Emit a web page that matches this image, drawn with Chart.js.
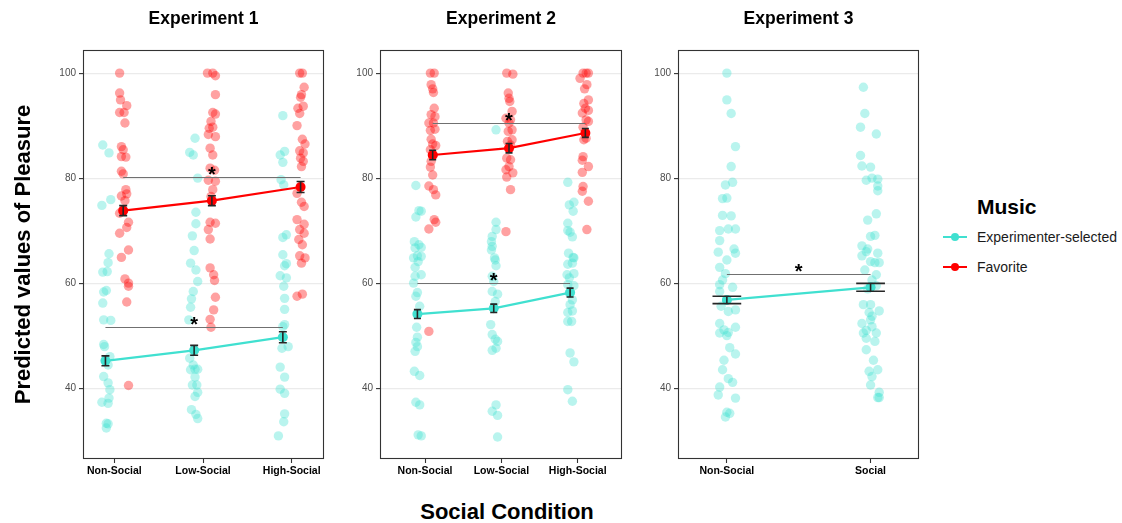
<!DOCTYPE html>
<html>
<head>
<meta charset="utf-8">
<script src="https://cdn.jsdelivr.net/npm/chart.js@4.4.0/dist/chart.umd.min.js"></script>
<style>
  body { margin: 0; background: #fff; font-family: "Liberation Sans", Arial, sans-serif; }
  #wrap { position: relative; width: 1122px; height: 523px; overflow: hidden; }
  #wrap canvas { position: absolute; top: 0; }
  #xtitle { position: absolute; left: 0; width: 1014px; top: 500px; line-height: 24px; text-align: center; font-weight: bold; font-size: 22px; color: #000; }
  #legTitle { position: absolute; left: 977px; top: 195px; line-height: 24px; font-weight: bold; font-size: 21px; color: #000; }
  .key { position: absolute; left: 943px; width: 24px; height: 2px; }
  .dot { position: absolute; left: 951px; width: 8px; height: 8px; border-radius: 50%; }
  .lab { position: absolute; left: 977px; line-height: 16px; font-size: 14px; color: #1a1a1a; }
</style>
</head>
<body>
<div id="wrap">
  <canvas id="c1" width="330" height="482" style="left:0px"></canvas>
  <canvas id="c2" width="298" height="482" style="left:330px"></canvas>
  <canvas id="c3" width="297" height="482" style="left:628px"></canvas>
  <div id="xtitle">Social Condition</div>
  <div id="legTitle">Music</div>
  <div class="key" style="top:236px;background:rgb(64,224,208)"></div>
  <div class="dot" style="top:233px;background:rgb(64,224,208)"></div>
  <div class="lab" style="top:229px">Experimenter-selected</div>
  <div class="key" style="top:266px;background:rgb(255,0,0)"></div>
  <div class="dot" style="top:263px;background:rgb(255,0,0)"></div>
  <div class="lab" style="top:259px">Favorite</div>
</div>
<script>
// ---- data ----
const yTicks = [40, 60, 80, 100];
const cats3 = ['Non-Social', 'Low-Social', 'High-Social'];
const cats2 = ['Non-Social', 'Social'];
const titles = ['Experiment 1', 'Experiment 2', 'Experiment 3'];

// points: [offset from category, predicted value]
// Experiment 1
const e1SelNon = [[-.13,86.3],[-.06,84.8],[-.14,74.8],[-.04,75.9],[-.06,65.6],[-.07,63.9],[-.13,62.1],[-.08,62.2],[-.12,58.3],[-.09,58.6],[-.13,56.2],[-.12,53],[-.04,52.9],[-.12,48.3],[-.11,47.9],[-.05,46],[-.07,44.4],[-.12,42.2],[-.07,41],[-.05,39.7],[-.06,38.1],[-.14,37.3],[-.07,37.1],[-.09,33.3],[-.07,33.2],[-.09,32.4]];
const e1SelLow = [[-.09,87.6],[-.15,84.9],[-.11,84.4],[-.06,80],[-.08,73.5],[-.08,71.3],[-.12,69],[-.10,66.2],[-.14,63.8],[-.08,62.5],[-.06,60.3],[-.11,58.4],[-.13,57],[-.14,55.4],[-.16,53],[-.15,45.7],[-.11,44.4],[-.09,43.6],[-.14,43.5],[-.06,43.6],[-.09,42.1],[-.12,40.6],[-.07,40.6],[-.06,39.2],[-.09,38.4],[-.13,35.9],[-.08,35],[-.06,34.2]];
const e1SelHigh = [[-.10,91.9],[-.13,84.4],[-.08,85.1],[-.10,83],[-.12,79.7],[-.09,78.7],[-.10,68.7],[-.06,69.2],[-.10,65.4],[-.06,63.7],[-.08,63.3],[-.13,61.4],[-.06,61],[-.09,59.4],[-.08,57.1],[-.08,55],[-.10,51.7],[-.08,52.1],[-.04,47.9],[-.11,47.6],[-.13,44],[-.08,42.1],[-.13,39.8],[-.08,39],[-.08,35.1],[-.09,33.6],[-.15,30.9]];
const e1FavNon = [[.06,100],[.06,96.2],[.07,94.9],[.14,93.8],[.06,92.5],[.11,92.5],[.12,90.5],[.08,86],[.10,85.4],[.08,84.1],[.13,84],[.08,81.3],[.10,80.8],[.13,77.8],[.08,76.6],[.14,77],[.12,75.7],[.06,73.3],[.16,71.6],[.14,70.6],[.06,69.5],[.16,66.3],[.08,64.9],[.12,60.8],[.16,60],[.16,59.4],[.14,56.4],[.16,40.5]];
const e1FavLow = [[.05,100],[.11,100],[.14,99.5],[.14,95.9],[.11,92.5],[.14,92.2],[.09,90.8],[.07,89.5],[.11,89.7],[.06,88.3],[.14,87.9],[.08,85.7],[.11,84.4],[.08,81.9],[.13,81.5],[.06,79.6],[.14,79.4],[.11,77.8],[.09,76.5],[.08,71.6],[.14,71.4],[.06,70.2],[.08,68.4],[.08,62.9],[.12,61.6],[.13,60.5],[.14,57.3],[.12,54.9],[.08,53.1],[.09,51.6]];
const e1FavHigh = [[.09,100],[.12,100],[.14,97.3],[.11,95.9],[.10,95.4],[.13,93.7],[.07,93.3],[.09,92.3],[.06,90],[.12,87.4],[.15,86.5],[.09,85.2],[.13,84.8],[.10,83.8],[.13,83.2],[.11,82.2],[.06,77.1],[.11,75.4],[.14,74.6],[.06,72.1],[.14,71.2],[.09,70.2],[.14,69.5],[.08,68.3],[.12,67.3],[.09,65.2],[.15,64.8],[.11,63.8],[.06,57.5],[.12,57.9]];
const e1SelMean = [45.2, 47.2, 49.7];
const e1SelSe = [0.95, 0.95, 1.05];
const e1FavMean = [73.8, 75.7, 78.3];
const e1FavSe = [0.95, 0.95, 1.05];
const e1Sig = [[1.1, 3.1, 80.3], [0.9, 2.9, 51.6]];

// Experiment 2
const e2SelNon = [[-.12,78.6],[-.08,73.8],[-.05,73.7],[-.12,72.6],[-.14,67.9],[-.08,67.3],[-.13,66.7],[-.05,66.8],[-.10,65.2],[-.15,64.8],[-.05,65.1],[-.13,63],[-.09,64.1],[-.13,61.3],[-.05,61.6],[-.15,60],[-.10,58.2],[-.12,57.5],[-.07,55.6],[-.11,51.6],[-.10,49.7],[-.12,48.7],[-.10,47.9],[-.13,47],[-.14,43.2],[-.07,42.4],[-.12,37.3],[-.07,36.8],[-.09,31.1],[-.05,30.9]];
const e2SelLow = [[-.07,89.2],[-.07,71.6],[-.07,70.2],[-.12,68.9],[-.13,67.9],[-.12,67],[-.13,66.3],[-.09,64.8],[-.08,64.4],[-.07,63.3],[-.12,61.3],[-.10,60.3],[-.12,58.4],[-.05,57.9],[-.08,56.5],[-.14,52.1],[-.12,50.2],[-.08,49.3],[-.05,48.9],[-.07,47.6],[-.12,47.2],[-.07,36.8],[-.12,35.6],[-.05,34.8],[-.05,30.7]];
const e2SelHigh = [[-.13,79.2],[-.11,74.9],[-.05,75.4],[-.06,73.7],[-.13,71.4],[-.13,70],[-.10,69.7],[-.07,68.8],[-.12,65.7],[-.06,64.9],[-.05,64.8],[-.13,63.6],[-.07,63.8],[-.05,61.8],[-.14,61.6],[-.11,61],[-.13,59.7],[-.05,59.5],[-.11,58.1],[-.07,56.8],[-.10,55.9],[-.07,54.7],[-.13,54.4],[-.13,52.7],[-.08,52.7],[-.10,46.7],[-.05,45],[-.13,39.7],[-.07,37.5]];
const e2FavNon = [[.07,100],[.12,100],[.08,97.8],[.10,97],[.11,96.3],[.12,93.3],[.08,92.1],[.13,91.7],[.05,90.5],[.11,90.5],[.07,89.1],[.13,89.3],[.08,87.4],[.10,86.5],[.14,86.2],[.07,85.4],[.11,84.4],[.08,83.2],[.07,82.1],[.10,80.6],[.05,78.5],[.11,77.8],[.14,76.8],[.12,72.1],[.14,71.6],[.05,70.3],[.05,50.8]];
const e2FavLow = [[.07,100],[.15,99.8],[.09,96.2],[.10,95.2],[.11,94.6],[.14,92.7],[.06,91.4],[.12,91.1],[.10,90.5],[.14,89.2],[.09,88.9],[.14,87.3],[.08,87],[.12,86.3],[.07,83.8],[.12,83.5],[.10,82.2],[.06,81.6],[.15,81],[.07,80.2],[.12,77.8],[.06,69.8]];
const e2FavHigh = [[.07,100],[.11,100],[.14,100],[.03,99],[.12,97.8],[.09,97],[.14,94.9],[.08,94.2],[.10,93.3],[.14,92.9],[.06,92.4],[.11,91.1],[.14,90.8],[.07,89.7],[.11,87.6],[.08,87.3],[.07,84.1],[.06,83.4],[.14,82.2],[.06,81.1],[.07,78.4],[.06,77.5],[.14,75.6],[.12,70.2]];
const e2SelMean = [54.1, 55.2, 58.2];
const e2SelSe = [0.85, 0.8, 0.85];
const e2FavMean = [84.4, 85.7, 88.6];
const e2FavSe = [0.9, 0.9, 0.85];
const e2Sig = [[1.1, 3.1, 90.5], [0.9, 2.9, 60.1]];

// Experiment 3
const e3SelNon = [[0,100],[0,94.9],[.03,92.3],[.06,86],[.03,82.2],[.04,79.2],[-.01,78.7],[-.03,76.1],[0,76.2],[-.03,72.9],[.03,72.8],[-.05,70],[.01,70.3],[.06,70.3],[-.05,68.1],[.05,66.5],[-.06,65.9],[.06,65.7],[0,64.4],[-.05,63],[-.01,61.8],[-.03,60.6],[-.05,59.7],[.04,59.2],[-.05,58.4],[0,56.8],[-.04,55.6],[.01,54.6],[.06,54.9],[-.05,52.3],[.06,51.6],[-.02,51.1],[-.05,50.5],[.01,50.6],[0,50],[.02,47.7],[.06,46.5],[-.02,45.3],[-.03,43.5],[.01,41.8],[.04,41.1],[-.05,40.2],[-.06,38.7],[.06,38.1],[0,35.4],[.02,35.2],[-.01,34.5]];
const e3SelSoc = [[-.05,97.3],[-.04,92.3],[-.07,89.7],[.04,88.4],[-.07,84.3],[-.06,82.3],[0,82.1],[.01,80],[.05,79.8],[-.03,79.6],[.05,78.5],[.05,77.6],[.04,73.2],[-.02,72],[0,68.9],[.03,69.1],[-.06,67.1],[-.02,66.5],[.05,65.7],[-.06,65.2],[-.03,66],[0,64.1],[.03,63.9],[.06,63.9],[-.04,62.5],[.04,61.6],[.01,60.6],[.04,59.5],[-.02,58.9],[0,55.9],[-.05,55.9],[-.01,54.4],[.06,54.7],[.01,53.7],[0,53],[-.06,52.3],[.01,51.7],[-.03,51],[-.05,50.5],[.04,50.5],[-.03,49.5],[.03,48.9],[-.03,47.3],[.02,45.3],[-.01,43.2],[.05,43.5],[.01,42.2],[0,40.6],[.06,39.2],[.05,38.2],[.06,38.2]];
const e3SelMean = [56.8, 59.2];
const e3SelSe = [0.7, 0.75];
const e3Sig = [[1, 2, 61.7]];

// ---- drawing ----
const SEL = 'rgb(64,224,208)';
const FAV = 'rgb(255,0,0)';
const FONT = '"Liberation Sans", Arial, sans-serif';

function fade(c) { return c.replace('rgb(', 'rgba(').replace(')', ',0.37)'); }

const panelDeco = {
  id: 'panelDeco',
  afterDatasetsDraw(chart, args, o) {
    const { ctx, chartArea: a, scales: { x, y } } = chart;
    ctx.save();
    // significance brackets
    o.sig.forEach(s => {
      const x1 = x.getPixelForValue(s[0]), x2 = x.getPixelForValue(s[1]);
      const py = Math.round(y.getPixelForValue(s[2])) + 0.5;
      ctx.strokeStyle = '#707070';
      ctx.lineWidth = 1.2;
      ctx.beginPath(); ctx.moveTo(x1, py); ctx.lineTo(x2, py); ctx.stroke();
      ctx.fillStyle = '#000';
      ctx.font = 'bold 20px ' + FONT;
      ctx.textAlign = 'center';
      ctx.textBaseline = 'alphabetic';
      ctx.fillText('*', (x1 + x2) / 2, py + 3.5);
    });
    // error bars
    o.bars.forEach(b => {
      const px = x.getPixelForValue(b.x);
      const hw = x.getPixelForValue(b.x + o.cap) - px;
      const y1 = y.getPixelForValue(b.m - b.se), y2 = y.getPixelForValue(b.m + b.se);
      ctx.strokeStyle = '#262626';
      ctx.lineWidth = 1.6;
      ctx.beginPath();
      ctx.moveTo(px, y1); ctx.lineTo(px, y2);
      ctx.moveTo(px - hw, y1); ctx.lineTo(px + hw, y1);
      ctx.moveTo(px - hw, y2); ctx.lineTo(px + hw, y2);
      ctx.stroke();
    });
    // panel frame
    ctx.strokeStyle = '#333';
    ctx.lineWidth = 1.1;
    ctx.strokeRect(a.left + 0.5, a.top + 0.5, a.right - a.left - 1, a.bottom - a.top - 1);
    ctx.restore();
  }
};

function makePanel(p) {
  const datasets = [];
  const bars = [];
  p.series.forEach(s => {
    datasets.push({
      type: 'line',
      data: s.mean.map((m, i) => ({ x: i + 1 + s.dodge, y: m })),
      showLine: true,
      borderColor: s.color,
      backgroundColor: s.color,
      borderWidth: 2.2,
      pointRadius: 5,
      pointBorderWidth: 0,
      order: 0
    });
    s.mean.forEach((m, i) => bars.push({ x: i + 1 + s.dodge, m: m, se: s.se[i] }));
    s.groups.forEach((g, ci) => {
      datasets.push({
        type: 'scatter',
        data: g.map(pt => ({ x: ci + 1 + pt[0], y: pt[1] })),
        backgroundColor: fade(s.color),
        borderWidth: 0,
        pointRadius: 4.7,
        order: 2
      });
    });
  });

  new Chart(document.getElementById(p.id), {
    type: 'scatter',
    data: { datasets: datasets },
    plugins: [panelDeco],
    options: {
      responsive: false,
      devicePixelRatio: 1,
      animation: false,
      events: [],
      layout: { padding: { left: 0, right: 6, top: 0, bottom: 0 } },
      plugins: {
        legend: { display: false },
        tooltip: { enabled: false },
        title: {
          display: true,
          text: p.title,
          fullSize: false,
          color: '#000',
          font: { family: FONT, size: 17.5, weight: 'bold' },
          padding: { top: 9, bottom: 20 }
        },
        panelDeco: { sig: p.sig, bars: bars, cap: p.cap }
      },
      scales: {
        x: {
          type: 'linear',
          min: p.xMin,
          max: p.xMax,
          afterBuildTicks: ax => { ax.ticks = p.cats.map((c, i) => ({ value: i + 1 })); },
          afterFit: ax => { ax.height = 23; },
          border: { display: false },
          grid: { drawOnChartArea: false, tickLength: 4, tickColor: '#333', tickWidth: 1.1 },
          ticks: {
            padding: 2,
            maxRotation: 0,
            color: '#000',
            font: { family: FONT, size: 10.5, weight: 'bold' },
            callback: v => p.cats[Math.round(v) - 1]
          }
        },
        y: {
          type: 'linear',
          min: 26.5,
          max: 104.4,
          afterBuildTicks: ax => { ax.ticks = yTicks.map(v => ({ value: v })); },
          afterFit: ax => { ax.width = p.yW; },
          border: { display: false },
          grid: { color: '#ebebeb', lineWidth: 1.2, tickLength: 4, tickColor: '#333', tickWidth: 1.1 },
          ticks: { padding: 3, color: '#4d4d4d', font: { family: FONT, size: 10 } },
          title: {
            display: p.yTitle,
            text: 'Predicted values of Pleasure',
            color: '#000',
            font: { family: FONT, size: 22, weight: 'bold' },
            padding: { top: 11, bottom: 0 }
          }
        }
      }
    }
  });
}

makePanel({
  id: 'c1', title: titles[0], cats: cats3, xMin: 0.647, xMax: 3.364, yW: 83, yTitle: true, cap: 0.045, sig: e1Sig,
  series: [
    { color: SEL, dodge: -0.1, groups: [e1SelNon, e1SelLow, e1SelHigh], mean: e1SelMean, se: e1SelSe },
    { color: FAV, dodge: 0.1, groups: [e1FavNon, e1FavLow, e1FavHigh], mean: e1FavMean, se: e1FavSe }
  ]
});
makePanel({
  id: 'c2', title: titles[1], cats: cats3, xMin: 0.41, xMax: 3.58, yW: 50, yTitle: false, cap: 0.046, sig: e2Sig,
  series: [
    { color: SEL, dodge: -0.1, groups: [e2SelNon, e2SelLow, e2SelHigh], mean: e2SelMean, se: e2SelSe },
    { color: FAV, dodge: 0.1, groups: [e2FavNon, e2FavLow, e2FavHigh], mean: e2FavMean, se: e2FavSe }
  ]
});
makePanel({
  id: 'c3', title: titles[2], cats: cats2, xMin: 0.66, xMax: 2.337, yW: 50, yTitle: false, cap: 0.1, sig: e3Sig,
  series: [
    { color: SEL, dodge: 0, groups: [e3SelNon, e3SelSoc], mean: e3SelMean, se: e3SelSe }
  ]
});
</script>
</body>
</html>
